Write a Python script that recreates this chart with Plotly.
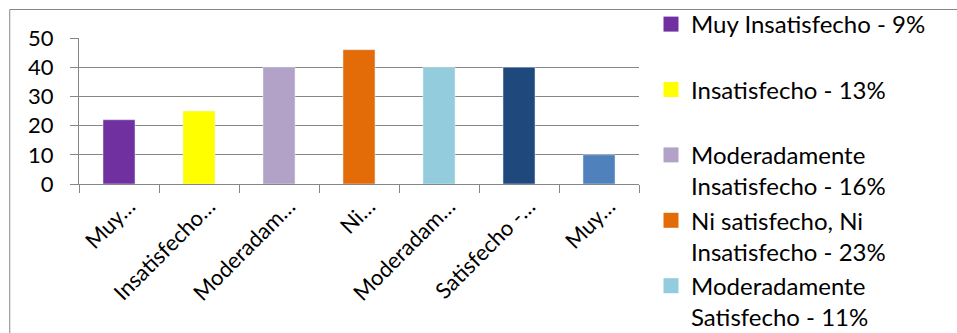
import plotly.graph_objects as go

# Survey satisfaction levels (count of responses per level)
categories = [
    "Muy Insatisfecho",
    "Insatisfecho",
    "Moderadamente Insatisfecho",
    "Ni satisfecho, Ni Insatisfecho",
    "Moderadamente Satisfecho",
    "Satisfecho",
    "Muy Satisfecho",
]
tick_labels = ["Muy…", "Insatisfecho…", "Moderadam…", "Ni…", "Moderadam…", "Satisfecho -…", "Muy…"]
values = [22, 25, 40, 46, 40, 40, 10]
colors = ["#7030A0", "#FFFF00", "#B3A2C7", "#E36C09", "#93CDDD", "#1F497D", "#4F81BD"]

# Legend entries with the share of each level
legend_labels = [
    "Muy Insatisfecho - 9%<br>\u00a0",
    "Insatisfecho - 13%<br>\u00a0",
    "Moderadamente<br>Insatisfecho - 16%",
    "Ni satisfecho, Ni<br>Insatisfecho - 23%",
    "Moderadamente<br>Satisfecho - 11%",
]

FONT = "Lato"
GRID = "#868686"
W, H = 957, 333
L, R, T, B = 79, 316, 38, 149

fig = go.Figure()
for cat, val, col in zip(categories, values, colors):
    fig.add_trace(go.Bar(x=[cat], y=[val], marker_color=col, width=0.4,
                         showlegend=False, hoverinfo="x+y"))

# Legend keys: one square marker per level
for i, lab in enumerate(legend_labels):
    fig.add_trace(go.Scatter(x=[None], y=[None], mode="markers", name=lab,
                             legendgroup=f"g{i}",
                             marker=dict(symbol="square", size=15, color=colors[i])))

# Chart-area frame
fig.add_shape(type="rect", xref="paper", yref="paper",
              x0=(9.5 - L) / (W - L - R), x1=(W + 20 - L) / (W - L - R),
              y0=-(H + 20 - (H - B)) / (H - T - B), y1=(H - B - 9.5) / (H - T - B),
              line=dict(color=GRID, width=1), fillcolor="rgba(0,0,0,0)", layer="below")

fig.update_layout(
    width=W, height=H,
    margin=dict(l=L, r=R, t=T, b=B, pad=0),
    paper_bgcolor="white", plot_bgcolor="white",
    font=dict(family=FONT, size=22, color="black"),
    legend=dict(xref="container", yref="container",
                x=651 / W, y=1 - 2 / H, xanchor="left", yanchor="top",
                font=dict(family=FONT, size=24, color="black"),
                tracegroupgap=0, valign="top", bgcolor="rgba(0,0,0,0)",
                borderwidth=0, maxheight=1000),
    xaxis=dict(type="category", categoryorder="array", categoryarray=categories,
               tickvals=categories, ticktext=tick_labels, tickangle=-45,
               ticklabelshift=10,
               showline=True, linecolor=GRID, linewidth=1,
               ticks="outside", tickson="boundaries", ticklen=8, tickcolor=GRID,
               showgrid=False, zeroline=False,
               tickfont=dict(family=FONT, size=22, color="black")),
    yaxis=dict(range=[0, 50], dtick=10, showgrid=True, gridcolor=GRID, gridwidth=1,
               showline=True, linecolor=GRID, linewidth=1,
               ticks="outside", ticklen=8, tickcolor=GRID, zeroline=False,
               ticklabelstandoff=12,
               tickfont=dict(family=FONT, size=22, color="black")),
)

fig.write_html("out.html")
